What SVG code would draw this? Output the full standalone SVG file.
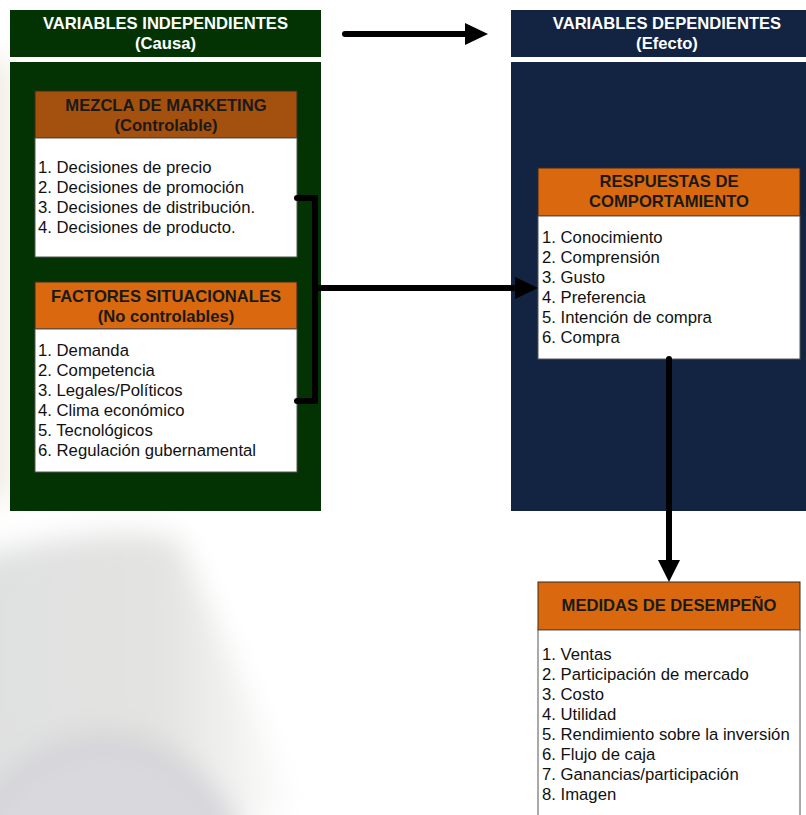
<svg xmlns="http://www.w3.org/2000/svg" width="806" height="815" viewBox="0 0 806 815">
  <defs>
    <style>
      .hdr { font-family: "Liberation Sans", Arial, sans-serif; font-weight: bold; font-size: 16.6px; fill: #ffffff; text-anchor: middle; }
      .ttl { font-family: "Liberation Sans", Arial, sans-serif; font-weight: bold; font-size: 16.6px; fill: #1a1a1a; text-anchor: middle; }
      .itm { font-family: "Liberation Sans", Arial, sans-serif; font-size: 16.7px; fill: #111111; }
      .cause { fill: #033303; }
      .effect { fill: #122441; }
      .cap-brown { fill: #A4500E; stroke: #3a2a1a; stroke-width: 1; }
      .cap-orange { fill: #D9680E; stroke: #3a2a1a; stroke-width: 1; }
      .body { fill: #ffffff; stroke: #555555; stroke-width: 1; }
      .wire { fill: none; stroke: #000000; stroke-width: 6; stroke-linecap: round; stroke-linejoin: miter; }
    </style>
    <radialGradient id="plate" cx="0.5" cy="0.5" r="0.5">
      <stop offset="0" stop-color="#d6d6dc"/>
      <stop offset="0.88" stop-color="#d9d9de"/>
      <stop offset="1" stop-color="#cbcbce"/>
    </radialGradient>
    <linearGradient id="haze" x1="0" y1="0" x2="1" y2="0">
      <stop offset="0" stop-color="#dfe0e1"/>
      <stop offset="0.6" stop-color="#e3e3e1"/>
      <stop offset="1" stop-color="#ffffff"/>
    </linearGradient>
    <filter id="soft" x="-30%" y="-30%" width="160%" height="160%">
      <feGaussianBlur stdDeviation="14"/>
    </filter>
  </defs>

  <!-- page and soft backdrop -->
  <rect x="0" y="0" width="806" height="815" fill="#ffffff"/>
  <g filter="url(#soft)">
    <path d="M-40,560 Q120,520 180,540 L300,815 L-40,860 Z" fill="url(#haze)"/>
    <ellipse cx="105" cy="905" rx="150" ry="170" fill="url(#plate)"/>
    <rect x="-20" y="60" width="28" height="440" fill="#eee8de"/>
  </g>

  <!-- column headers -->
  <g id="hdr-independientes">
    <rect class="cause" x="10" y="10" width="311" height="47"/>
    <text class="hdr" x="165.5" y="29">VARIABLES INDEPENDIENTES</text>
    <text class="hdr" x="165.5" y="49">(Causa)</text>
  </g>
  <g id="hdr-dependientes">
    <rect class="effect" x="511" y="10" width="295" height="47"/>
    <text class="hdr" x="667" y="29">VARIABLES DEPENDIENTES</text>
    <text class="hdr" x="667" y="49">(Efecto)</text>
  </g>

  <!-- column panels -->
  <g id="panel-causa">
    <rect class="cause" x="10" y="62" width="311" height="449"/>
  </g>
  <g id="panel-efecto">
    <rect class="effect" x="511" y="62" width="295" height="449"/>
  </g>

  <!-- marketing mix -->
  <g id="mezcla">
    <rect class="cap-brown" x="35" y="91" width="262" height="47"/>
    <text class="ttl" x="166" y="111">MEZCLA DE MARKETING</text>
    <text class="ttl" x="166" y="131">(Controlable)</text>
    <rect class="body" x="35" y="138" width="262" height="119"/>
    <text class="itm" x="38" y="173">1. Decisiones de precio</text>
    <text class="itm" x="38" y="193">2. Decisiones de promoción</text>
    <text class="itm" x="38" y="213">3. Decisiones de distribución.</text>
    <text class="itm" x="38" y="233">4. Decisiones de producto.</text>
  </g>

  <!-- situational factors -->
  <g id="factores">
    <rect class="cap-orange" x="35" y="282" width="262" height="47"/>
    <text class="ttl" x="166" y="302">FACTORES SITUACIONALES</text>
    <text class="ttl" x="166" y="322">(No controlables)</text>
    <rect class="body" x="35" y="329" width="262" height="143"/>
    <text class="itm" x="38" y="356">1. Demanda</text>
    <text class="itm" x="38" y="376">2. Competencia</text>
    <text class="itm" x="38" y="396">3. Legales/Políticos</text>
    <text class="itm" x="38" y="416">4. Clima económico</text>
    <text class="itm" x="38" y="436">5. Tecnológicos</text>
    <text class="itm" x="38" y="456">6. Regulación gubernamental</text>
  </g>

  <!-- behavioural responses -->
  <g id="respuestas">
    <rect class="cap-orange" x="538" y="168" width="262" height="48"/>
    <text class="ttl" x="669" y="187">RESPUESTAS DE</text>
    <text class="ttl" x="669" y="207">COMPORTAMIENTO</text>
    <rect class="body" x="538" y="216" width="262" height="143"/>
    <text class="itm" x="542" y="243">1. Conocimiento</text>
    <text class="itm" x="542" y="263">2. Comprensión</text>
    <text class="itm" x="542" y="283">3. Gusto</text>
    <text class="itm" x="542" y="303">4. Preferencia</text>
    <text class="itm" x="542" y="323">5. Intención de compra</text>
    <text class="itm" x="542" y="343">6. Compra</text>
  </g>

  <!-- performance measures -->
  <g id="medidas">
    <rect class="cap-orange" x="538" y="582" width="262" height="48"/>
    <text class="ttl" x="669" y="611">MEDIDAS DE DESEMPEÑO</text>
    <rect class="body" x="538" y="630" width="262" height="200"/>
    <text class="itm" x="542" y="660">1. Ventas</text>
    <text class="itm" x="542" y="680">2. Participación de mercado</text>
    <text class="itm" x="542" y="700">3. Costo</text>
    <text class="itm" x="542" y="720">4. Utilidad</text>
    <text class="itm" x="542" y="740">5. Rendimiento sobre la inversión</text>
    <text class="itm" x="542" y="760">6. Flujo de caja</text>
    <text class="itm" x="542" y="780">7. Ganancias/participación</text>
    <text class="itm" x="542" y="800">8. Imagen</text>
  </g>

  <!-- connectors -->
  <g id="connectors">
    <line class="wire" x1="345" y1="34" x2="468" y2="34"/>
    <path d="M465,23 L488,34 L465,45 Z" fill="#000000"/>
    <path class="wire" d="M297,198 L315,198 L315,401 L297,401"/>
    <line class="wire" x1="315" y1="288" x2="518" y2="288" stroke-linecap="butt"/>
    <path d="M515,277 L538,288 L515,299 Z" fill="#000000"/>
    <line class="wire" x1="669" y1="359" x2="669" y2="562"/>
    <path d="M658,560 L669,582 L680,560 Z" fill="#000000"/>
  </g>
</svg>
